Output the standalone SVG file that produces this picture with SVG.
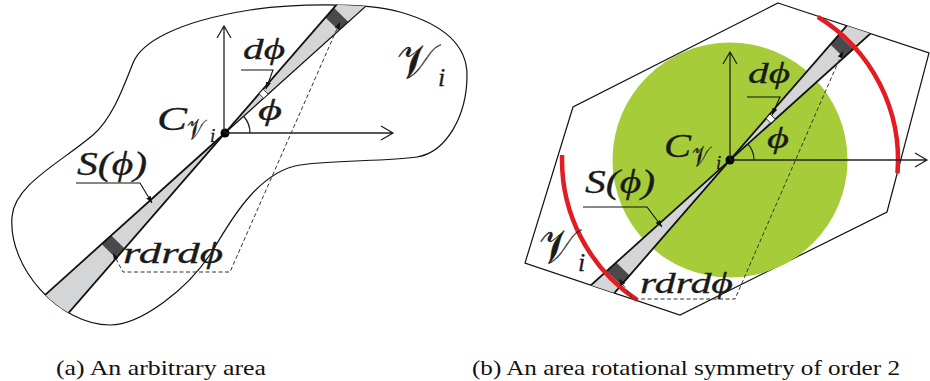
<svg xmlns="http://www.w3.org/2000/svg" width="930" height="381" viewBox="0 0 930 381">
<style>
.ln{fill:none;stroke:#111;stroke-width:1.2}
.ax{fill:none;stroke:#222;stroke-width:1.3}
.strip{fill:#d4d5d7}
.band{fill:#4a4a4c}
.edge{stroke:#111;stroke-width:1.8;fill:none}
.edget{stroke:#111;stroke-width:1.2;fill:none}
.dash{fill:none;stroke:#333;stroke-width:1;stroke-dasharray:4 2.5}
.lead{fill:none;stroke:#111;stroke-width:1.1}
.red{fill:none;stroke:#e31b23;stroke-width:4.5}
.mk{fill:#fff;stroke:#111;stroke-width:0.8}
.lbl{font-family:"Liberation Serif","DejaVu Serif",serif;font-style:italic;fill:#1a1a1a;stroke:#1a1a1a;stroke-width:0.3}
.scr{font-family:"Liberation Serif","DejaVu Serif",serif;font-style:normal;fill:#1a1a1a;stroke:#1a1a1a;stroke-width:0.3}
.cap{font-family:"Liberation Serif","DejaVu Serif",serif;font-size:21px;fill:#111}
</style>
<defs>
<marker id="tip" viewBox="0 0 8 6" refX="8" refY="3" markerWidth="7" markerHeight="5.5" markerUnits="userSpaceOnUse" orient="auto-start-reverse">
<path d="M0 0 L8 3 L0 6 Z" fill="#111"/>
</marker>
<path id="blobPath" d="M133 63 C141 43 175 22 250 10 C290 3.6 365 2 400 12 C435 22 467 40 467 75 C467 115 447 152 417 157 C387 161.5 330 160 300 165 C255 172 226 229.5 213 250 C188 290 140 325 110 325 C60 325 8 268 12 217 C14 185 60 163 93 135 C113 118 125 83 133 63 Z"/>
<clipPath id="clipBlob"><use href="#blobPath"/></clipPath>
<clipPath id="clipHex"><polygon points="778,3 929,53 887,212 680,315 525,263 573,107"/></clipPath>
</defs>

<g id="panel-a">
  <g id="blob">
    <use href="#blobPath" class="ln" fill="none"/>
  </g>
  <g id="strip-a" clip-path="url(#clipBlob)">
    <polygon class="strip" points="225,133 421.8,-93.4 447.9,-67.7"/>
    <polygon class="strip" points="225,133 28.2,359.4 2.1,333.7"/>
    <polygon class="band" points="325.4,17.5 338.7,30.6 348.4,21.9 333.9,7.7"/>
    <polygon class="band" points="124.6,248.5 111.3,235.4 101.6,244.1 116.1,258.3"/>
    <line class="edge" x1="421.8" y1="-93.4" x2="28.2" y2="359.4"/>
    <line class="edget" x1="447.9" y1="-67.7" x2="225" y2="133"/>
    <line class="edge" x1="225" y1="133" x2="2.1" y2="333.7"/>
    <polygon class="mk" points="259.1,93.8 263.6,98.2 268.1,94.2 263.1,89.2"/>
  </g>
  <g id="center-a">
    <circle cx="225" cy="133" r="4.5" fill="#000"/>
  </g>
  <g id="labels-a">
    <text class="lbl" x="243" y="59" font-size="29" textLength="42" lengthAdjust="spacingAndGlyphs">dϕ</text>
    <text class="lbl" x="258" y="120" font-size="30" textLength="24" lengthAdjust="spacingAndGlyphs">ϕ</text>
    <text class="lbl" x="157" y="130" font-size="34" textLength="30" lengthAdjust="spacingAndGlyphs">C</text>
    <text class="scr" x="187" y="139" font-size="28" textLength="17" lengthAdjust="spacingAndGlyphs">𝒱</text>
    <text class="lbl" x="210" y="142" font-size="19">i</text>
    <text class="scr" x="397" y="78" font-size="48" textLength="38" lengthAdjust="spacingAndGlyphs">𝒱</text>
    <text class="lbl" x="438" y="86" font-size="26">i</text>
    <text class="lbl" x="77" y="175" font-size="33" textLength="70" lengthAdjust="spacingAndGlyphs">S(ϕ)</text>
    <text class="lbl" x="123" y="263" font-size="30" textLength="100" lengthAdjust="spacingAndGlyphs">rdrdϕ</text>
  </g>
</g>

<g id="panel-b">
  <g id="hexagon">
    <polygon class="ln" points="778,3 929,53 887,212 680,315 525,263 573,107"/>
  </g>
  <g id="disc">
    <circle cx="730" cy="160" r="117.5" fill="#a6cd39"/>
  </g>
  <g id="strip-b" clip-path="url(#clipHex)">
    <polygon class="strip" points="730,160 926.8,-66.4 952.9,-40.7"/>
    <polygon class="strip" points="730,160 533.2,386.4 507.1,360.7"/>
    <polygon class="band" points="830.4,44.5 843.7,57.6 853.4,48.9 838.9,34.7"/>
    <polygon class="band" points="629.6,275.5 616.3,262.4 606.6,271.1 621.1,285.3"/>
    <line class="edge" x1="926.8" y1="-66.4" x2="533.2" y2="386.4"/>
    <line class="edge" x1="952.9" y1="-40.7" x2="507.1" y2="360.7"/>
    <polygon class="mk" points="766.1,118.5 770.9,123.2 775.3,119.2 770,114"/>
  </g>
  <g id="arcs-b">
    <path class="red" d="M817.8 16.8 A168 168 0 0 1 897.5 173.2"/>
    <path class="red" d="M562.1 155 A168 168 0 0 0 637 299.9"/>
  </g>
  <g id="center-b">
    <circle cx="730" cy="160" r="4.5" fill="#000"/>
  </g>
  <g id="labels-b">
    <text class="lbl" x="748" y="83" font-size="29" textLength="42" lengthAdjust="spacingAndGlyphs">dϕ</text>
    <text class="lbl" x="767" y="148" font-size="30" textLength="22" lengthAdjust="spacingAndGlyphs">ϕ</text>
    <text class="lbl" x="664" y="157" font-size="34" textLength="27" lengthAdjust="spacingAndGlyphs">C</text>
    <text class="scr" x="692" y="166" font-size="28" textLength="17" lengthAdjust="spacingAndGlyphs">𝒱</text>
    <text class="lbl" x="716" y="169" font-size="19">i</text>
    <text class="scr" x="539" y="263" font-size="48" textLength="37" lengthAdjust="spacingAndGlyphs">𝒱</text>
    <text class="lbl" x="578" y="271" font-size="26">i</text>
    <text class="lbl" x="585" y="193" font-size="33" textLength="70" lengthAdjust="spacingAndGlyphs">S(ϕ)</text>
    <text class="lbl" x="640" y="293" font-size="30" textLength="93" lengthAdjust="spacingAndGlyphs">rdrdϕ</text>
  </g>
</g>

<g id="connectors">
  <path class="ax" d="M224 133 V26 M217 38 L224 26 L231 38"/>
  <path class="ax" d="M225 133 H393 M381 126 L393 133 L381 140"/>
  <path class="ax" d="M250 133 A25 25 0 0 0 243.6 116.3"/>
  <path class="ax" d="M730 160 V52 M723 64 L730 52 L737 64"/>
  <path class="ax" d="M730 160 H927 M915 153 L927 160 L915 167"/>
  <path class="ax" d="M754 160 A24 24 0 0 0 747.8 143.9"/>
  <path class="lead" d="M241 70 H273 L266 89" marker-end="url(#tip)"/>
  <path class="lead" d="M76 183 H140 L152 203" marker-end="url(#tip)"/>
  <path class="lead" d="M747 97 H780 L772 115" marker-end="url(#tip)"/>
  <path class="lead" d="M583 207 H647 L662 227" marker-end="url(#tip)"/>
  <path class="dash" d="M113 253 L123 272 L230 272 L340 22" marker-start="url(#tip)" marker-end="url(#tip)"/>
  <path class="dash" d="M619 279 L633 299 L735 299 L843 51" marker-start="url(#tip)" marker-end="url(#tip)"/>
</g>

<g id="captions">
  <text class="cap" x="56" y="375" textLength="210" lengthAdjust="spacingAndGlyphs">(a) An arbitrary area</text>
  <text class="cap" x="472" y="375" textLength="428" lengthAdjust="spacingAndGlyphs">(b) An area rotational symmetry of order 2</text>
</g>
</svg>
